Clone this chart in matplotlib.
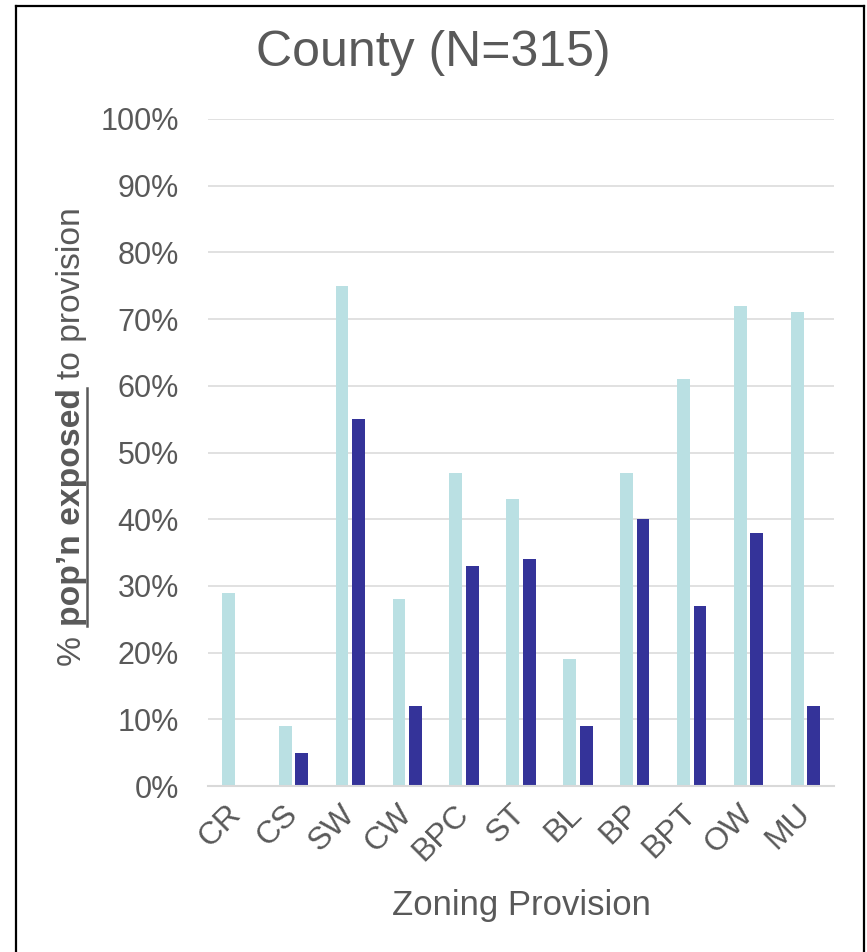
import matplotlib
matplotlib.use("Agg")
import matplotlib.pyplot as plt
from matplotlib.lines import Line2D
import numpy as np

# chart values
categories = ["CR", "CS", "SW", "CW", "BPC", "ST", "BL", "BP", "BPT", "OW", "MU"]
light_vals = [29, 9, 75, 28, 47, 43, 19, 47, 61, 72, 71]
dark_vals = [0, 5, 55, 12, 33, 34, 9, 40, 27, 38, 12]
y_ticks = [0, 10, 20, 30, 40, 50, 60, 70, 80, 90, 100]
y_tick_labels = [f"{t}%" for t in y_ticks]

LIGHT = "#BAE0E3"
DARK = "#343399"
GREY_TXT = "#595959"
GRID = "#D9D9D9"

plt.rcParams['font.family'] = ['Liberation Sans', 'DejaVu Sans']

W, H = 867, 952
fig = plt.figure(figsize=(W / 100, H / 100), dpi=100)
fig.patch.set_facecolor("white")

def fx(px):
    return px / W

def fy(py):
    return 1 - py / H

ax = fig.add_axes([fx(208), fy(786), fx(834) - fx(208), fy(119) - fy(786)])

x = np.arange(len(categories))
bw = 0.225
off = 0.144
ax.bar(x - off, light_vals, bw, color=LIGHT, linewidth=0, zorder=3)
ax.bar(x + off, dark_vals, bw, color=DARK, linewidth=0, zorder=3)

ax.set_xlim(-0.5, len(categories) - 0.5)
ax.set_ylim(0, 100)
ax.set_yticks(y_ticks, y_tick_labels)
ax.set_xticks(x, categories, rotation=45, ha="right", va="center",
              rotation_mode="anchor")
ax.tick_params(axis="y", length=0, pad=21, labelsize=22, labelcolor=GREY_TXT)
ax.tick_params(axis="x", length=0, pad=17, labelsize=23, labelcolor=GREY_TXT)

ax.yaxis.grid(True, color=GRID, linewidth=1.1, zorder=0)
ax.set_axisbelow(True)
for side in ["top", "left", "right"]:
    ax.spines[side].set_visible(False)
ax.spines["bottom"].set_color(GRID)
ax.spines["bottom"].set_linewidth(1.5)
ax.spines["bottom"].set_zorder(4)

# title and x label
fig.text(fx(433.5), fy(53), "County (N=315)", ha="center", va="center",
         fontsize=36, color=GREY_TXT)
fig.text(fx(521), fy(905), "Zoning Provision", ha="center", va="center",
         fontsize=25, color=GREY_TXT)

# y label, built from pieces so the middle can be bold and underlined
ylab_size = 24.2
renderer = fig.canvas.get_renderer()
parts = [("%", "normal"), ("pop\u2019n exposed", "bold"), ("to provision", "normal")]
gap = 0.278 * ylab_size * 100 / 72
texts = []
lengths = []
for s, w in parts:
    t = fig.text(fx(80), 0.5, s, rotation=90, rotation_mode="anchor",
                 ha="left", va="baseline", fontsize=ylab_size,
                 fontweight=w, color=GREY_TXT)
    texts.append(t)
    lengths.append(t.get_window_extent(renderer).height)
total = sum(lengths) + gap * (len(parts) - 1)
pos = (H - 436) - total / 2
starts = []
for t, L in zip(texts, lengths):
    t.set_position((fx(80), pos / H))
    starts.append((pos, pos + L))
    pos += L + gap

b0, b1 = starts[1]
fig.add_artist(Line2D([fx(87), fx(87)], [b0 / H, b1 / H], color=GREY_TXT,
                      linewidth=1.8, transform=fig.transFigure))

# outer frame (left, top, right)
frame_kw = dict(color="black", linewidth=1.6, transform=fig.transFigure)
fig.add_artist(Line2D([fx(16), fx(16)], [0, fy(6)], **frame_kw))
fig.add_artist(Line2D([fx(16), fx(864)], [fy(6), fy(6)], **frame_kw))
fig.add_artist(Line2D([fx(864), fx(864)], [0, fy(6)], **frame_kw))

fig.savefig("out.png", dpi=100)
